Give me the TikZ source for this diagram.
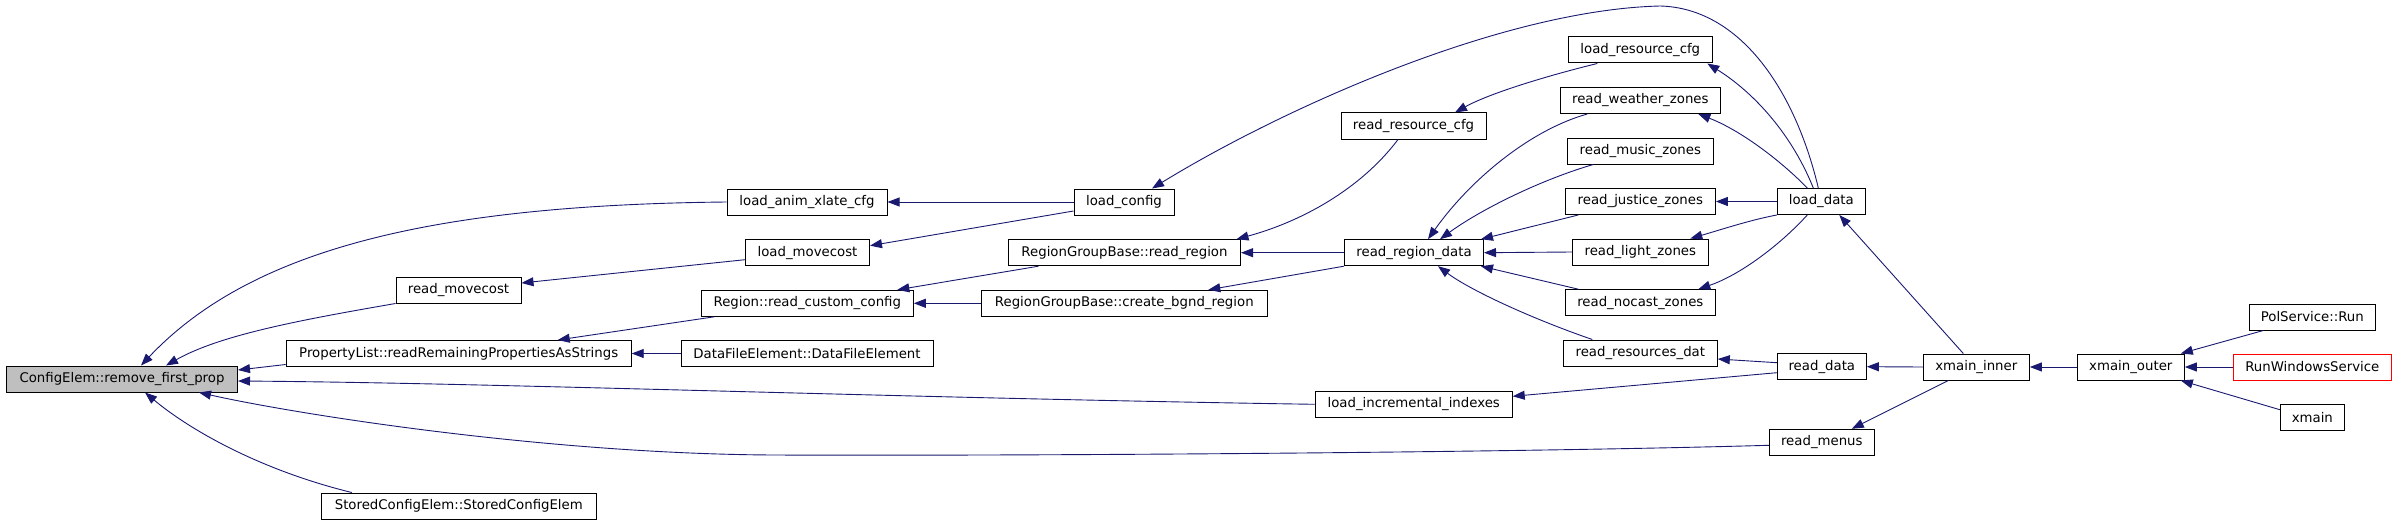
\documentclass[tikz,border=0pt]{standalone}
\usepackage{fontspec}
\setmainfont{DejaVu Sans}
\usetikzlibrary{arrows.meta}
\definecolor{edgeblue}{HTML}{191970}
\definecolor{nodegray}{HTML}{BFBFBF}
\begin{document}
\begin{tikzpicture}[x=1pt,y=-1pt,
 box/.style={draw=black,line width=1pt,rectangle,inner sep=0pt,minimum height=26pt,font=\fontsize{13.3}{16}\selectfont},
 edge/.style={draw=edgeblue,line width=0.9pt,-{Triangle[length=12pt,width=9pt]}}]
\useasboundingbox (0,0) rectangle (2397,524);
\node[box,fill=nodegray,minimum width=231pt] (cfg) at (122,379) {ConfigElem::remove\_first\_prop};
\node[box,minimum width=160pt] (loadanim) at (807,202) {load\_anim\_xlate\_cfg};
\node[box,minimum width=124pt] (loadmove) at (807.5,252.7) {load\_movecost};
\node[box,minimum width=125pt] (readmove) at (458.5,290) {read\_movecost};
\node[box,minimum width=212pt] (regcustom) at (807.3,303.3) {Region::read\_custom\_config};
\node[box,minimum width=345pt] (proplist) at (458.7,353.5) {PropertyList::readRemainingPropertiesAsStrings};
\node[box,minimum width=252pt] (datafile) at (807,353.5) {DataFileElement::DataFileElement};
\node[box,minimum width=275pt] (stored) at (458.8,506) {StoredConfigElem::StoredConfigElem};
\node[box,minimum width=100pt] (loadconfig) at (1124,202) {load\_config};
\node[box,minimum width=232pt] (readregion) at (1124.5,252.7) {RegionGroupBase::read\_region};
\node[box,minimum width=286pt] (createbgnd) at (1124.3,303.3) {RegionGroupBase::create\_bgnd\_region};
\node[box,minimum width=197pt] (loadincr) at (1413.7,404.3) {load\_incremental\_indexes};
\node[box,minimum width=145pt] (readrescfg) at (1413.5,126) {read\_resource\_cfg};
\node[box,minimum width=139pt] (readregiondata) at (1414,252.7) {read\_region\_data};
\node[box,minimum width=144pt] (loadrescfg) at (1640.3,50) {load\_resource\_cfg};
\node[box,minimum width=160pt] (weather) at (1640.3,100.5) {read\_weather\_zones};
\node[box,minimum width=146pt] (music) at (1640.3,151) {read\_music\_zones};
\node[box,minimum width=150pt] (justice) at (1640.3,201.5) {read\_justice\_zones};
\node[box,minimum width=136pt] (light) at (1640.3,252) {read\_light\_zones};
\node[box,minimum width=150pt] (nocast) at (1640.3,302.7) {read\_nocast\_zones};
\node[box,minimum width=154pt] (resdat) at (1640.3,353) {read\_resources\_dat};
\node[box,minimum width=88pt] (loaddata) at (1821.3,201.5) {load\_data};
\node[box,minimum width=89pt] (readdata) at (1821.8,366.7) {read\_data};
\node[box,minimum width=105pt] (readmenus) at (1821.8,442.3) {read\_menus};
\node[box,minimum width=106pt] (xinner) at (1976.3,367) {xmain\_inner};
\node[box,minimum width=107pt] (xouter) at (2130.8,367) {xmain\_outer};
\node[box,minimum width=126pt] (polrun) at (2312.3,317) {PolService::Run};
\node[box,draw=red,minimum width=158pt] (runwin) at (2312.3,367) {RunWindowsService};
\node[box,minimum width=64pt] (xmain) at (2312.3,417.7) {xmain};
\draw[edge] (loadanim.west) .. controls (430,205) and (250,250) .. ([xshift=19pt]cfg.north);
\draw[edge] (readmove.south west) .. controls (300,320) and (220,335) .. ([xshift=44pt]cfg.north);
\draw[edge] ([yshift=-11pt]proplist.west) -- ([yshift=9pt]cfg.east);
\draw[edge] (loadincr.west) .. controls (900,398) and (500,383) .. ([yshift=-2pt]cfg.east);
\draw[edge] ([yshift=-3pt]readmenus.west) .. controls (1500,453) and (1000,456) .. (774,455) .. controls (550,454) and (300,415) .. ([xshift=77pt]cfg.south);
\draw[edge] ([xshift=-107pt]stored.north) .. controls (260,470) and (190,430) .. ([xshift=23pt]cfg.south);
\draw[edge] (loadconfig.west) -- (loadanim.east);
\draw[edge] ([yshift=-9pt]loadconfig.west) -- ([yshift=7pt]loadmove.east);
\draw[edge] ([yshift=-7pt]loadmove.west) -- ([yshift=7pt]readmove.east);
\draw[edge] ([xshift=-93pt]regcustom.south) -- ([xshift=99pt]proplist.north);
\draw[edge] (datafile.west) -- (proplist.east);
\draw[edge] ([xshift=-86pt]readregion.south) -- ([xshift=90pt]regcustom.north);
\draw[edge] (createbgnd.west) -- (regcustom.east);
\draw[edge] (readregiondata.west) -- (readregion.east);
\draw[edge] (readregiondata.south west) -- ([xshift=84pt]createbgnd.north);
\draw[edge] ([xshift=-15.5pt]readrescfg.south) .. controls (1360,190) and (1300,222) .. ([xshift=112pt]readregion.north);
\draw[edge] ([xshift=-3pt]loaddata.north) .. controls (1795,90) and (1740,8) .. (1660,6) .. controls (1500,10) and (1280,110) .. ([xshift=28pt]loadconfig.north);
\draw[edge] ([xshift=-43pt]loadrescfg.south) .. controls (1550,75) and (1490,93) .. ([xshift=41.5pt]readrescfg.north);
\draw[edge] ([xshift=-53pt]weather.south) .. controls (1530,130) and (1470,180) .. ([xshift=14pt]readregiondata.north);
\draw[edge] ([xshift=-47pt]music.south) .. controls (1540,180) and (1480,210) .. ([xshift=26pt]readregiondata.north);
\draw[edge] ([xshift=-62pt]justice.south) -- ([xshift=67pt]readregiondata.north);
\draw[edge] (light.west) -- (readregiondata.east);
\draw[edge] ([xshift=-62pt]nocast.north) -- ([xshift=67pt]readregiondata.south);
\draw[edge] ([xshift=-48pt]resdat.north) .. controls (1530,318) and (1470,290) .. ([xshift=24pt]readregiondata.south);
\draw[edge] ([xshift=-8pt]loaddata.north) .. controls (1790,130) and (1750,90) .. ([xshift=67pt]loadrescfg.south);
\draw[edge] ([xshift=-14pt]loaddata.north) .. controls (1780,160) and (1740,130) .. ([xshift=58pt]weather.south);
\draw[edge] (loaddata.west) -- (justice.east);
\draw[edge] (loaddata.south west) .. controls (1750,220) and (1720,230) .. ([xshift=50pt]light.north);
\draw[edge] ([xshift=-14pt]loaddata.south) .. controls (1780,245) and (1740,275) .. ([xshift=58pt]nocast.north);
\draw[edge] ([yshift=4pt]readdata.west) -- ([yshift=-6pt]resdat.east);
\draw[edge] ([yshift=-6pt]readdata.west) -- ([yshift=8pt]loadincr.east);
\draw[edge] (xinner.west) -- (readdata.east);
\draw[edge] ([xshift=-13pt]xinner.north) -- ([xshift=18pt]loaddata.south);
\draw[edge] ([xshift=-28pt]xinner.south) -- ([xshift=30pt]readmenus.north);
\draw[edge] (xouter.west) -- (xinner.east);
\draw[edge] ([xshift=-49pt]polrun.south) -- ([xshift=-4pt]xouter.north east);
\draw[edge] (runwin.west) -- (xouter.east);
\draw[edge] ([yshift=8pt]xmain.west) -- ([xshift=-4pt]xouter.south east);
\end{tikzpicture}
\end{document}
